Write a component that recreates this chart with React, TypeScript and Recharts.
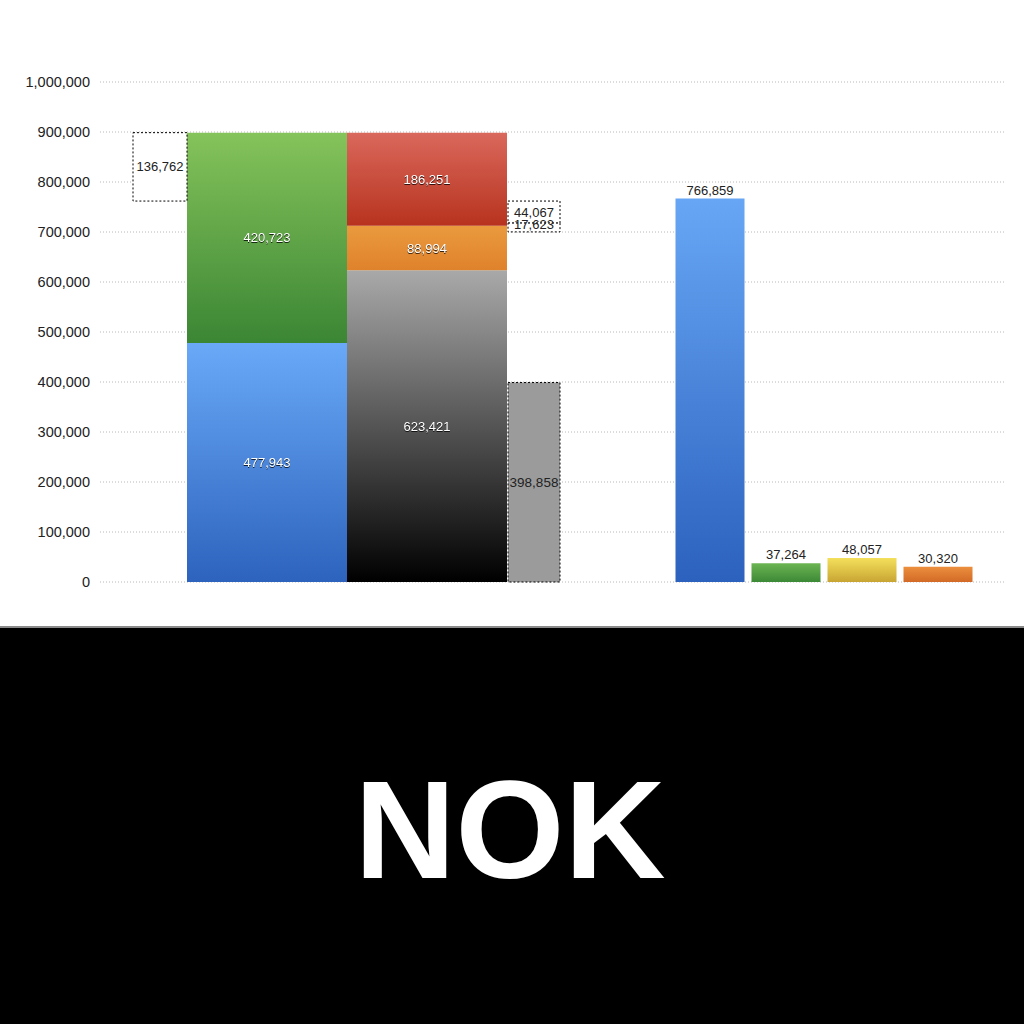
import React from 'react';
import { ComposedChart, Bar, XAxis, YAxis, CartesianGrid, LabelList, Cell } from 'recharts';

// ---------- data ----------
const yTicks = [0, 100000, 200000, 300000, 400000, 500000, 600000, 700000, 800000, 900000, 1000000];

const mainCategories = ['Income', 'Spending'];
const blueValues = [477943, null];
const greenValues = [420723, null];
const blackValues = [null, 623421];
const orangeValues = [null, 88994];
const redValues = [null, 186251];

const leftBoxValue = 136762;
const sideUpperValue = 44067;
const sideLowerValue = 17623;
const sideGreyValue = 398858;

const rightCategories = ['A', 'B', 'C', 'D'];
const rightValues = [766859, 37264, 48057, 30320];
const rightGradients = ['rBlue', 'rGreen', 'rYellow', 'rOrange'];

const currencyTitle = 'NOK';

// ---------- derived tables ----------
const mainData = mainCategories.map((name, i) => ({
  name,
  blue: blueValues[i],
  green: greenValues[i],
  black: blackValues[i],
  orange: orangeValues[i],
  red: redValues[i],
}));

const incomeTotal = (blueValues[0] as number) + (greenValues[0] as number);
const leftBoxLow = incomeTotal - leftBoxValue;
const leftData = [{ name: 'L', range: [leftBoxLow, incomeTotal], amount: leftBoxValue }];

const sideUpperLow = leftBoxLow - sideUpperValue;
const sideLowerLow = sideUpperLow - sideLowerValue;
const sideData = [
  {
    name: 'R',
    grey: sideGreyValue,
    upper: [sideUpperLow, leftBoxLow],
    upperAmt: sideUpperValue,
    lower: [sideLowerLow, sideUpperLow],
    lowerAmt: sideLowerValue,
  },
];

const rightData = rightCategories.map((name, i) => ({ name, value: rightValues[i] }));

// ---------- layout ----------
const W = 1024;
const H = 626;
const MARGIN = { top: 82, right: 18, bottom: 44, left: 0 };
const Y_WIDTH = 100;
const FONT = '"Liberation Sans", Arial, sans-serif';
const fmt = (v: any) => (v == null || Array.isArray(v) ? '' : Number(v).toLocaleString('en-US'));

const whiteLabelStyle: any = {
  fill: '#ffffff',
  fontSize: 13,
  fontFamily: FONT,
  filter: 'drop-shadow(0px 1px 0.5px rgba(0,0,0,0.75))',
};
const darkLabelStyle: any = { fill: '#222', fontSize: 13, fontFamily: FONT };

function yAxisEl(visible: boolean) {
  return (
    <YAxis
      width={Y_WIDTH}
      domain={[0, 1000000]}
      ticks={yTicks}
      interval={0}
      tickFormatter={fmt}
      axisLine={false}
      tickLine={false}
      tick={visible ? { fontSize: 14.5, fill: '#222', fontFamily: FONT, dx: -2 } : false}
    />
  );
}

const overlayStyle: any = { position: 'absolute', left: 0, top: 0 };

function Grad({ id, top, bottom }: { id: string; top: string; bottom: string }) {
  return (
    <linearGradient id={id} x1="0" y1="0" x2="0" y2="1">
      <stop offset="0%" stopColor={top} />
      <stop offset="100%" stopColor={bottom} />
    </linearGradient>
  );
}

export default function App() {
  return (
    <div style={{ position: 'absolute', left: 0, top: 0, width: 1024, height: 1024, background: '#fff', overflow: 'hidden' }}>
      {/* base chart: axis, grid and main stacked bars */}
      <div style={overlayStyle}>
        <ComposedChart width={W} height={H} data={mainData} margin={MARGIN} barCategoryGap={0} barGap={0}>
          <defs>
            <Grad id="gBlue" top="#69a9f8" bottom="#2d63bd" />
            <Grad id="gGreen" top="#85c35b" bottom="#3b8634" />
            <Grad id="gBlack" top="#a9a9a9" bottom="#000000" />
            <Grad id="gOrange" top="#ea9a3e" bottom="#df822c" />
            <Grad id="gRed" top="#da685c" bottom="#b7331e" />
          </defs>
          <CartesianGrid vertical={false} strokeDasharray="1 2" stroke="#b8b8b8" />
          <XAxis dataKey="name" hide padding={{ left: 87, right: 499 }} />
          {yAxisEl(true)}
          <Bar dataKey="blue" stackId="s" fill="url(#gBlue)" isAnimationActive={false}>
            <LabelList dataKey="blue" position="center" formatter={fmt} style={whiteLabelStyle} />
          </Bar>
          <Bar dataKey="green" stackId="s" fill="url(#gGreen)" isAnimationActive={false}>
            <LabelList dataKey="green" position="center" formatter={fmt} style={whiteLabelStyle} />
          </Bar>
          <Bar dataKey="black" stackId="s" fill="url(#gBlack)" isAnimationActive={false}>
            <LabelList dataKey="black" position="center" formatter={fmt} style={whiteLabelStyle} />
          </Bar>
          <Bar dataKey="orange" stackId="s" fill="url(#gOrange)" isAnimationActive={false}>
            <LabelList dataKey="orange" position="center" formatter={fmt} style={whiteLabelStyle} />
          </Bar>
          <Bar dataKey="red" stackId="s" fill="url(#gRed)" isAnimationActive={false}>
            <LabelList dataKey="red" position="center" formatter={fmt} style={whiteLabelStyle} />
          </Bar>
        </ComposedChart>
      </div>

      {/* left dotted box */}
      <div style={overlayStyle}>
        <ComposedChart width={W} height={H} data={leftData} margin={MARGIN} barCategoryGap={0} barGap={0}>
          <XAxis dataKey="name" hide padding={{ left: 33, right: 819 }} />
          {yAxisEl(false)}
          <Bar dataKey="range" fill="#ffffff" stroke="#000" strokeWidth={1} strokeDasharray="2 2" isAnimationActive={false}>
            <LabelList dataKey="amount" position="center" formatter={fmt} style={darkLabelStyle} />
          </Bar>
        </ComposedChart>
      </div>

      {/* right side boxes */}
      <div style={overlayStyle}>
        <ComposedChart width={W} height={H} data={sideData} margin={MARGIN} barCategoryGap={0} barGap={0}>
          <XAxis xAxisId="g" dataKey="name" hide padding={{ left: 408, right: 446 }} />
          <XAxis xAxisId="u" dataKey="name" hide padding={{ left: 408, right: 446 }} />
          <XAxis xAxisId="l" dataKey="name" hide padding={{ left: 408, right: 446 }} />
          {yAxisEl(false)}
          <Bar xAxisId="g" dataKey="grey" fill="#9b9b9b" stroke="#000" strokeWidth={1} strokeDasharray="2 2" isAnimationActive={false}>
            <LabelList dataKey="grey" position="center" formatter={fmt} style={{ ...darkLabelStyle, fontSize: 13.5 }} />
          </Bar>
          <Bar xAxisId="u" dataKey="upper" fill="#ffffff" stroke="#000" strokeWidth={1} strokeDasharray="2 2" isAnimationActive={false}>
            <LabelList dataKey="upperAmt" position="center" formatter={fmt} style={darkLabelStyle} />
          </Bar>
          <Bar xAxisId="l" dataKey="lower" fill="#ffffff" stroke="#000" strokeWidth={1} strokeDasharray="2 2" isAnimationActive={false}>
            <LabelList dataKey="lowerAmt" position="center" formatter={fmt} style={darkLabelStyle} offset={0} dy={-3} />
          </Bar>
        </ComposedChart>
      </div>

      {/* right group of bars */}
      <div style={overlayStyle}>
        <ComposedChart width={W} height={H} data={rightData} margin={MARGIN} barSize={69}>
          <defs>
            <Grad id="rBlue" top="#67a6f5" bottom="#2c62be" />
            <Grad id="rGreen" top="#6db553" bottom="#3c8936" />
            <Grad id="rYellow" top="#f4e05b" bottom="#c8a533" />
            <Grad id="rOrange" top="#eb8f3d" bottom="#d26a26" />
          </defs>
          <XAxis dataKey="name" hide padding={{ left: 571.5, right: 30.5 }} />
          {yAxisEl(false)}
          <Bar dataKey="value" isAnimationActive={false}>
            {rightData.map((d, i) => (
              <Cell key={d.name} fill={`url(#${rightGradients[i]})`} />
            ))}
            <LabelList dataKey="value" position="top" offset={4} formatter={fmt} style={darkLabelStyle} />
          </Bar>
        </ComposedChart>
      </div>

      {/* bottom panel */}
      <div style={{ position: 'absolute', left: 0, top: 626, width: 1024, height: 2, background: '#8a8a8a' }} />
      <div style={{ position: 'absolute', left: 0, top: 628, width: 1024, height: 396, background: '#000' }}>
        <svg width={1024} height={396}>
          <text x={510} y={250} textAnchor="middle" fill="#fff" fontFamily={FONT} fontWeight="bold" fontSize={140}>
            {currencyTitle}
          </text>
        </svg>
      </div>
    </div>
  );
}
